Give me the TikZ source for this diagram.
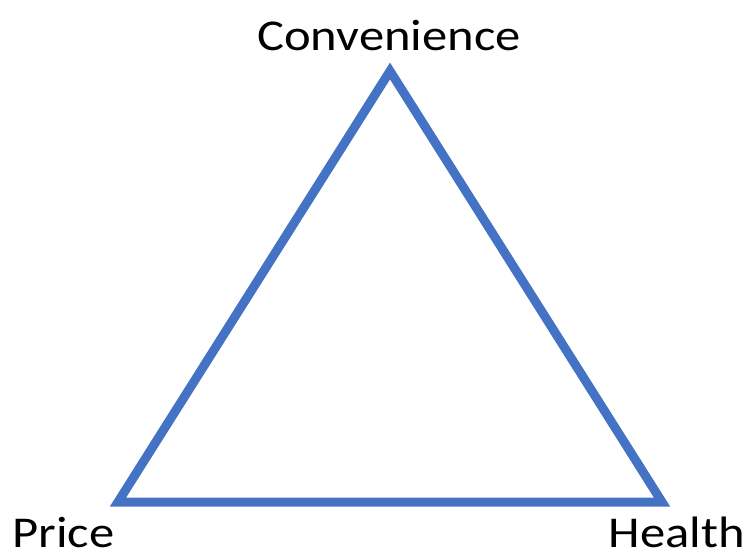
\documentclass[tikz,border=0pt]{standalone}
\usepackage{fontspec}
\setmainfont{Carlito}[FakeStretch=1.15]
\definecolor{triblue}{RGB}{68,114,196}
\begin{document}
\begin{tikzpicture}[x=1pt,y=-1pt,
  edge/.style={draw=triblue,line width=9pt,miter limit=10,line join=miter},
  lbl/.style={font=\fontsize{44}{50}\selectfont,inner sep=0pt,text=black}]
\useasboundingbox (0,0) rectangle (747,557);
\coordinate (top) at (390,71);
\coordinate (left) at (118,502);
\coordinate (right) at (662,502);
\draw[edge] (top) -- (left) -- (right) -- cycle;
\node[lbl,anchor=base] (conv) at (389,50) {Convenience};
\node[lbl,anchor=base west] (price) at (12,547) {Price};
\node[lbl,anchor=base east] (health) at (745,547) {Health};
\end{tikzpicture}
\end{document}
